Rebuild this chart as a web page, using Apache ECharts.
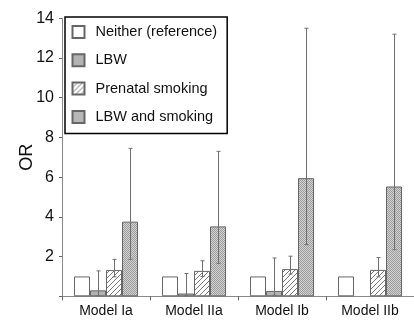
<!DOCTYPE html>
<html><head><meta charset="utf-8">
<script src="https://cdn.jsdelivr.net/npm/echarts@6/dist/echarts.min.js"></script>
<style>html,body{margin:0;padding:0;background:#fff}#c{width:414px;height:321px}</style>
</head><body><div id="c"></div>
<script>
const categories = ['Model Ia', 'Model IIa', 'Model Ib', 'Model IIb'];
const seriesNames = ['Neither (reference)', 'LBW', 'Prenatal smoking', 'LBW and smoking'];
const yTicks = [0, 2, 4, 6, 8, 10, 12, 14];

const neither = [1.0, 1.0, 1.0, 1.0];
const lbw = [0.30, 0.14, 0.27, null];
const prenatal = [1.32, 1.28, 1.37, 1.33];
const lbwSmoking = [3.76, 3.52, 5.95, 5.53];

const lbwLow = [0.03, 0.02, 0.05, null];
const lbwHigh = [1.28, 1.15, 1.93, null];
const prenatalLow = [0.98, 1.0, 1.12, 0.98];
const prenatalHigh = [1.86, 1.79, 2.02, 1.95];
const smokingLow = [1.86, 1.66, 2.6, 2.35];
const smokingHigh = [7.45, 7.3, 13.5, 13.2];

function hatchPattern() {
  const c = document.createElement('canvas'); c.width = 5; c.height = 5;
  const g = c.getContext('2d');
  g.fillStyle = '#fff'; g.fillRect(0, 0, 5, 5);
  g.strokeStyle = '#7a7a7a'; g.lineWidth = 1;
  g.beginPath();
  g.moveTo(-1, 6); g.lineTo(6, -1);
  g.moveTo(-1, 1); g.lineTo(1, -1);
  g.moveTo(4, 6); g.lineTo(6, 4);
  g.stroke();
  return c;
}
function stipplePattern() {
  const c = document.createElement('canvas'); c.width = 2; c.height = 2;
  const g = c.getContext('2d');
  g.fillStyle = '#d2d2d2'; g.fillRect(0, 0, 2, 2);
  g.fillStyle = '#9c9c9c'; g.fillRect(0, 0, 1, 1); g.fillRect(1, 1, 1, 1);
  return c;
}

const barW = 16;
const border = '#666';
const errData = [];
[[lbwLow, lbwHigh, 1], [prenatalLow, prenatalHigh, 2], [smokingLow, smokingHigh, 3]].forEach(([lo, hi, k]) => {
  categories.forEach((c, i) => {
    if (lo[i] != null && hi[i] != null) errData.push([i, lo[i], hi[i], k]);
  });
});

const chart = echarts.init(document.getElementById('c'), null, { renderer: 'canvas' });
const barBase = { type: 'bar', barWidth: barW, barGap: '0%' };
chart.setOption({
  animation: false,
  textStyle: { fontFamily: 'Liberation Sans, Arial, sans-serif' },
  grid: { left: 62, right: -1, top: 18.3, bottom: 24.7, containLabel: false },
  legend: {
    data: seriesNames,
    orient: 'vertical', left: 65, top: 17,
    icon: 'rect', itemWidth: 12, itemHeight: 12, itemGap: 13.3,
    padding: [7.5, 10, 9, 6.5],
    borderColor: '#000', borderWidth: 1.5, backgroundColor: '#fff',
    textStyle: { fontSize: 14.5, color: '#111', lineHeight: 12, padding: [0, 0, 0, 6] },
    selectedMode: false
  },
  xAxis: {
    type: 'category', data: categories,
    axisLine: { lineStyle: { color: '#888', width: 1 } },
    axisTick: { show: true, length: 4, interval: 0, lineStyle: { color: '#666' } },
    axisLabel: { fontSize: 14, color: '#111', margin: 8 }
  },
  yAxis: {
    type: 'value', min: yTicks[0], max: yTicks[yTicks.length - 1], interval: 2,
    name: 'OR', nameLocation: 'middle', nameGap: 26, nameMoveOverlap: false,
    nameTextStyle: { fontSize: 18, color: '#111' },
    axisLine: { show: true, lineStyle: { color: '#888', width: 1 } },
    axisTick: { show: true, length: 3, lineStyle: { color: '#666' } },
    splitLine: { show: false },
    axisLabel: { fontSize: 16, color: '#111', margin: 8, formatter: v => v === 0 ? '' : String(v) }
  },
  series: [
    Object.assign({}, barBase, { name: seriesNames[0], data: neither,
      itemStyle: { color: '#fff', borderColor: border, borderWidth: 1 } }),
    Object.assign({}, barBase, { name: seriesNames[1], data: lbw,
      itemStyle: { color: '#b3b3b3', borderColor: border, borderWidth: 1 } }),
    Object.assign({}, barBase, { name: seriesNames[2], data: prenatal,
      itemStyle: { color: { image: hatchPattern(), repeat: 'repeat' }, borderColor: border, borderWidth: 1 } }),
    Object.assign({}, barBase, { name: seriesNames[3], data: lbwSmoking,
      itemStyle: { color: { image: stipplePattern(), repeat: 'repeat' }, borderColor: border, borderWidth: 1 } }),
    {
      type: 'custom', name: 'err', data: errData, z: 5,
      encode: { x: 0, y: [1, 2] },
      renderItem: function (params, api) {
        const cat = api.value(0), lo = api.value(1), hi = api.value(2), k = api.value(3);
        const pLo = api.coord([cat, lo]), pHi = api.coord([cat, hi]);
        const x = Math.round(pLo[0] + (k - 1.5) * barW) + 0.5;
        const style = { stroke: '#707070', lineWidth: 1 };
        return {
          type: 'group', children: [
            { type: 'line', shape: { x1: x, y1: pLo[1], x2: x, y2: pHi[1] }, style: style },
            { type: 'line', shape: { x1: x - 2, y1: pLo[1], x2: x + 2, y2: pLo[1] }, style: style },
            { type: 'line', shape: { x1: x - 2, y1: pHi[1], x2: x + 2, y2: pHi[1] }, style: style }
          ]
        };
      }
    }
  ]
});
</script></body></html>
